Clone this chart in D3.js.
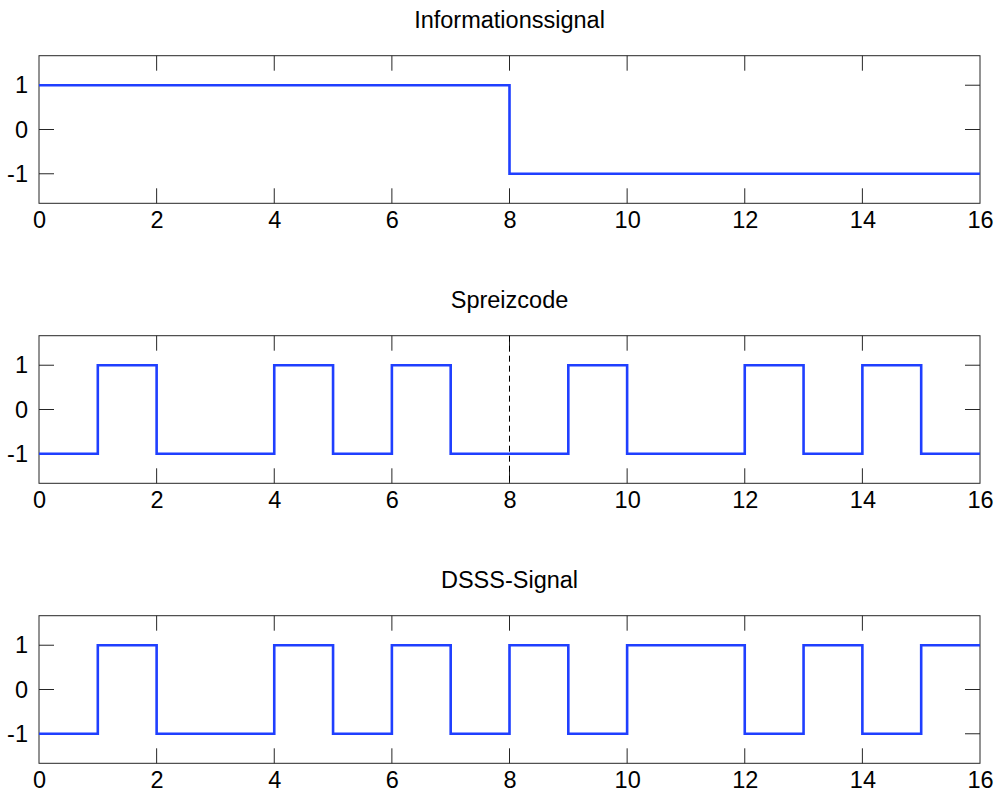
<!DOCTYPE html>
<html>
<head>
<meta charset="utf-8">
<script src="https://cdn.jsdelivr.net/npm/d3@7"></script>
<style>
  html, body { margin: 0; padding: 0; background: #fff; }
  svg text { font-family: "Liberation Sans", Arial, sans-serif; fill: #000; }
</style>
</head>
<body>
<svg id="chart" width="998" height="796"></svg>
<script>
// Signal values per chip interval [t, t+1), t = 0..15
const chipTimes = d3.range(0, 17);
const infoSignal = [1, 1, 1, 1, 1, 1, 1, 1, -1, -1, -1, -1, -1, -1, -1, -1];
const spreadCode = [-1, 1, -1, -1, 1, -1, 1, -1, -1, 1, -1, -1, 1, -1, 1, -1];
const dsssSignal = [-1, 1, -1, -1, 1, -1, 1, -1, 1, -1, 1, 1, -1, 1, -1, 1];
const panelTitles = ["Informationssignal", "Spreizcode", "DSSS-Signal"];
const xTicks = [0, 2, 4, 6, 8, 10, 12, 14, 16];
const yTicks = [-1, 0, 1];
const bitBoundaries = [[], [8], []];

const panels = [infoSignal, spreadCode, dsssSignal];

const svg = d3.select("#chart");
const left = 39, right = 980;
const panelTop = [55.7, 335.7, 615.7];
const panelH = 147.6;
const tickLen = 15;
const fontSize = 23.5;
const axisColor = "#262626";
const lineColor = "#1f3fff";

const x = d3.scaleLinear().domain([0, 16]).range([left, right]);

panels.forEach((vals, i) => {
  const top = panelTop[i], bottom = top + panelH;
  const y = d3.scaleLinear().domain([-5 / 3, 5 / 3]).range([bottom, top]);
  const g = svg.append("g");

  // title
  g.append("text")
    .attr("x", (left + right) / 2)
    .attr("y", top - 27.7)
    .attr("text-anchor", "middle")
    .attr("font-size", fontSize)
    .text(panelTitles[i]);

  // x tick labels
  const xAxisB = d3.axisBottom(x).tickValues(xTicks).tickSize(0).tickPadding(8.5)
    .tickFormat(d => String(d));
  const gx = g.append("g").attr("transform", `translate(0,${bottom})`).call(xAxisB);
  gx.select(".domain").remove();
  gx.selectAll("text").attr("font-size", fontSize).attr("dy", "0.71em")
    .style("font-family", "Liberation Sans, Arial, sans-serif");

  // inward tick marks, bottom and mirrored top
  xTicks.forEach(t => {
    if (t === 0 || t === 16) return;
    g.append("line").attr("x1", x(t)).attr("x2", x(t)).attr("y1", bottom).attr("y2", bottom - tickLen)
      .attr("stroke", axisColor).attr("stroke-width", 1);
    g.append("line").attr("x1", x(t)).attr("x2", x(t)).attr("y1", top).attr("y2", top + tickLen)
      .attr("stroke", axisColor).attr("stroke-width", 1);
  });

  // y tick labels
  const yAxisL = d3.axisLeft(y).tickValues(yTicks).tickSize(0).tickPadding(11)
    .tickFormat(d => String(d));
  const gy = g.append("g").attr("transform", `translate(${left},0)`).call(yAxisL);
  gy.select(".domain").remove();
  gy.selectAll("text").attr("font-size", fontSize)
    .style("font-family", "Liberation Sans, Arial, sans-serif");

  // inward tick marks, left and mirrored right
  yTicks.forEach(t => {
    g.append("line").attr("x1", left).attr("x2", left + tickLen).attr("y1", y(t)).attr("y2", y(t))
      .attr("stroke", axisColor).attr("stroke-width", 1);
    g.append("line").attr("x1", right).attr("x2", right - tickLen).attr("y1", y(t)).attr("y2", y(t))
      .attr("stroke", axisColor).attr("stroke-width", 1);
  });

  // frame
  g.append("rect")
    .attr("x", left).attr("y", top)
    .attr("width", right - left).attr("height", panelH)
    .attr("fill", "none").attr("stroke", axisColor).attr("stroke-width", 1);

  // dashed marker at bit boundary
  bitBoundaries[i].forEach(b => {
    g.append("line")
      .attr("x1", x(b)).attr("x2", x(b))
      .attr("y1", top).attr("y2", bottom)
      .attr("stroke", "#000").attr("stroke-width", 1)
      .attr("stroke-dasharray", "6,4");
  });

  // step trace
  const pts = chipTimes.map((t, k) => [t, vals[Math.min(k, vals.length - 1)]]);
  const line = d3.line().x(d => x(d[0])).y(d => y(d[1])).curve(d3.curveStepAfter);
  g.append("path")
    .datum(pts)
    .attr("d", line)
    .attr("fill", "none")
    .attr("stroke", lineColor)
    .attr("stroke-width", 2.6)
    .attr("stroke-linejoin", "miter")
    .attr("stroke-linecap", "butt");
});
</script>
</body>
</html>
